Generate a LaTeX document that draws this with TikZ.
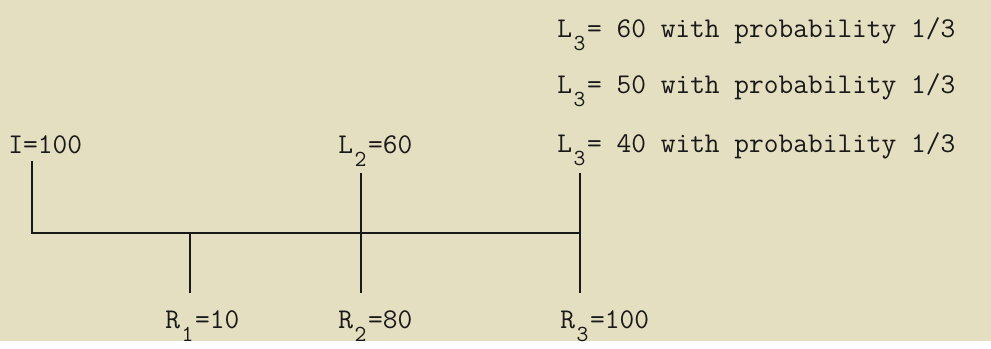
\documentclass[tikz,border=0pt]{standalone}
\usepackage{xcolor}
\definecolor{paper}{RGB}{229,223,193}
\definecolor{ink}{RGB}{25,25,25}
\newcommand{\lsub}[1]{\makebox[0.525em][c]{\raisebox{-6.5pt}{\fontsize{11.5}{11.5}\selectfont #1}}}
\begin{document}
\begin{tikzpicture}[x=0.5pt, y=-0.5pt,
  lbl/.style={anchor=base west, inner sep=3.5pt, text=ink, font=\fontsize{14.3}{17}\selectfont\ttfamily},
  wire/.style={line width=1pt, draw=ink}]
\fill[paper] (0,0) rectangle (991,341);
% labels above the line
\node[lbl] (I) at (1,153) {I=100};
\node[lbl] (L2) at (331,153) {L\lsub{2}=60};
\node[lbl] (L3a) at (550,37) {L\lsub{3}= 60 with probability 1/3};
\node[lbl] (L3b) at (550,93) {L\lsub{3}= 50 with probability 1/3};
\node[lbl] (L3c) at (550,152) {L\lsub{3}= 40 with probability 1/3};
% labels below the line
\node[lbl] (R1) at (158,328) {R\lsub{1}=10};
\node[lbl] (R2) at (331,328) {R\lsub{2}=80};
\node[lbl] (R3) at (553,328) {R\lsub{3}=100};
% junctions on the line
\coordinate (j0) at (32,233);
\coordinate (j1) at (190,233);
\coordinate (j2) at (361,233);
\coordinate (j3) at (580,233);
\draw[wire] (I.south -| j0) -- (j0) -- (j3);
\draw[wire, shorten >=5pt] (j1) -- (R1.north -| j1);
\draw[wire, shorten >=5pt] (L2.south -| j2) -- (R2.north -| j2);
\draw[wire, shorten >=5pt] (L3c.south -| j3) -- (R3.north -| j3);
\end{tikzpicture}
\end{document}
